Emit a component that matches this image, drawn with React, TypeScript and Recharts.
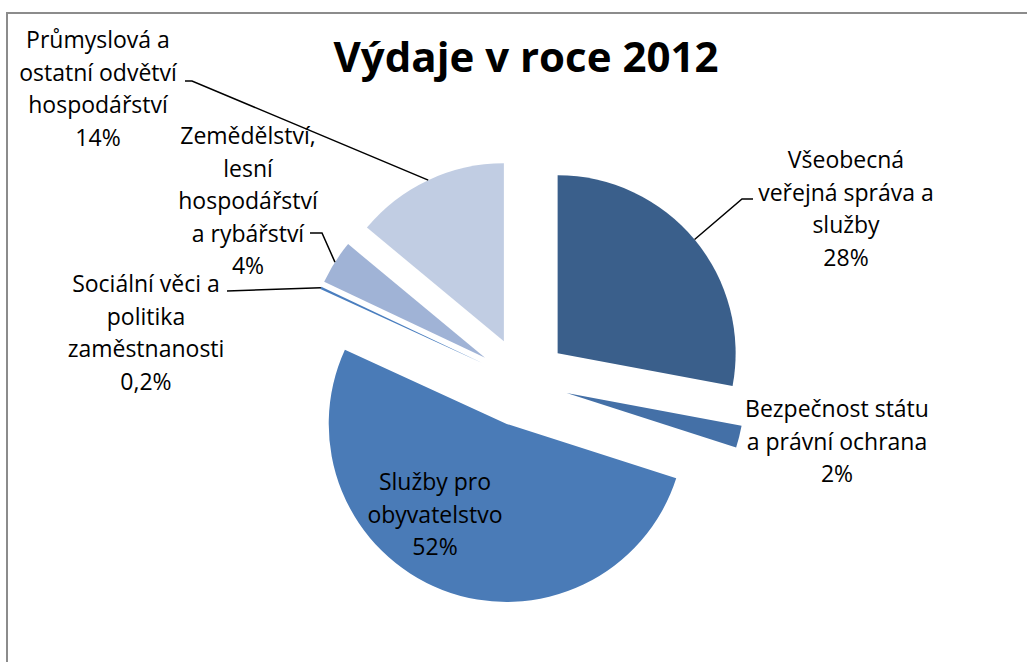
import { PieChart, Pie, Sector } from "recharts";

const title = "Výdaje v roce 2012";

const categories = [
  "Všeobecná\nveřejná správa a\nslužby",
  "Bezpečnost státu\na právní ochrana",
  "Služby pro\nobyvatelstvo",
  "Sociální věci a\npolitika\nzaměstnanosti",
  "Zemědělství,\nlesní\nhospodářství\na rybářství",
  "Průmyslová a\nostatní odvětví\nhospodářství",
];

const shares = [28, 2, 52, 0.2, 4, 14];

const colors = ["#3a5f8b", "#4470a7", "#4a7bb7", "#4a7ebf", "#a0b3d6", "#c1cde3"];

const data = categories.map((name, i) => ({ name, value: shares[i] }));

// where each label sits (first baseline, centre x) and its leader elbow
const labelSpots: any[] = [
  { x: 846, y: 168, bend: [742, 199], end: [753, 199] },
  { x: 837, y: 417, bend: null, end: null },
  { x: 435, y: 490, bend: null, end: null },
  { x: 146, y: 292, bend: null, end: [227, 291] },
  { x: 248, y: 144, bend: [322, 233], end: [310, 233] },
  { x: 98, y: 48, bend: [192, 81], end: [185, 81] },
];

const RAD = Math.PI / 180;
const explode = 45;
const lineGap = 32.5;
const font = "'Open Sans', Lato, sans-serif";

// the pie itself is drawn transparent; every slice is redrawn here pulled out along its mid angle
function renderSlice(props: any) {
  const { cx, cy, outerRadius, startAngle, endAngle, midAngle, index, value } = props;
  const dx = Math.cos(-midAngle * RAD);
  const dy = Math.sin(-midAngle * RAD);
  const ex = cx + explode * dx;
  const ey = cy + explode * dy;
  const ax = ex + outerRadius * dx;
  const ay = ey + outerRadius * dy;
  const spot = labelSpots[index];
  const lines = String(categories[index]).split("\n");
  lines.push(String(value).replace(".", ",") + "%");

  let leader = null;
  if (spot.end) {
    const pts = spot.bend
      ? `${ax},${ay} ${spot.bend[0]},${spot.bend[1]} ${spot.end[0]},${spot.end[1]}`
      : `${ax},${ay} ${spot.end[0]},${spot.end[1]}`;
    leader = <polyline points={pts} fill="none" stroke="#000" strokeWidth={1.5} />;
  }

  return (
    <g key={"slice-" + index}>
      <Sector
        cx={ex}
        cy={ey}
        innerRadius={0}
        outerRadius={outerRadius}
        startAngle={startAngle}
        endAngle={endAngle}
        fill={colors[index]}
        stroke="none"
      />
      {leader}
      <text
        x={spot.x}
        y={spot.y}
        textAnchor="middle"
        fontFamily={font}
        fontSize={23}
        fill="#000"
      >
        {lines.map((t, i) => (
          <tspan key={i} x={spot.x} y={spot.y + i * lineGap}>
            {t}
          </tspan>
        ))}
      </text>
    </g>
  );
}

export default function App() {
  return (
    <div
      style={{
        position: "absolute",
        left: 0,
        top: 0,
        width: 1027,
        height: 662,
        overflow: "hidden",
        background: "#fff",
      }}
    >
      <div
        style={{
          position: "absolute",
          left: 6,
          top: 12,
          width: 1100,
          height: 800,
          border: "2px solid #8c8c8c",
        }}
      />
      <svg width={1027} height={100} style={{ position: "absolute", left: 0, top: 0 }}>
        <text
          x={526}
          y={72}
          textAnchor="middle"
          fontFamily={font}
          fontWeight={700}
          fontSize={42}
          fill="#000"
        >
          {title}
        </text>
      </svg>
      <div style={{ position: "absolute", left: 0, top: 0 }}>
        <PieChart width={1027} height={662} margin={{ top: 0, right: 0, bottom: 0, left: 0 }}>
          <Pie
            data={data}
            dataKey="value"
            nameKey="name"
            cx={523}
            cy={382}
            innerRadius={0}
            outerRadius={178}
            startAngle={90}
            endAngle={-270}
            fill="transparent"
            stroke="none"
            label={renderSlice}
            labelLine={false}
            isAnimationActive={false}
          />
        </PieChart>
      </div>
    </div>
  );
}
